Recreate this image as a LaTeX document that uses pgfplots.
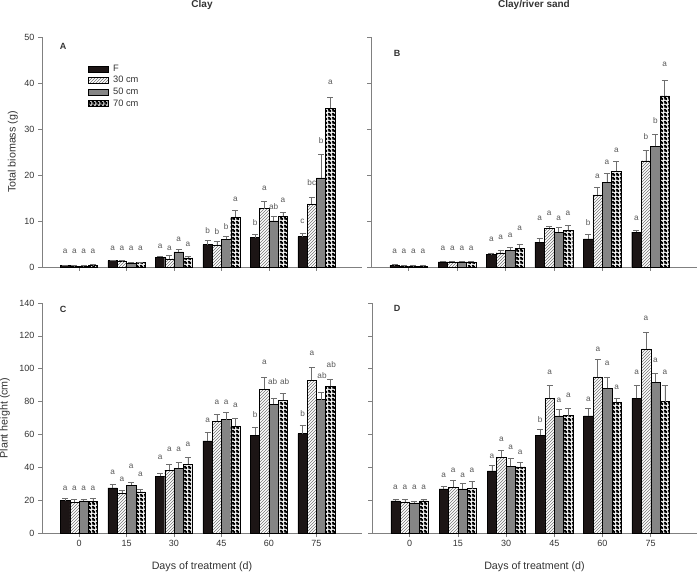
\documentclass[border=0pt]{standalone}
\usepackage{fontspec}
\setmainfont{Liberation Sans}
\usepackage{pgfplots}
\usepackage{pgfplotstable}
\pgfplotsset{compat=1.18}
\usetikzlibrary{patterns}

\definecolor{txt}{HTML}{333333}
\definecolor{axc}{HTML}{808080}
\definecolor{Fcol}{HTML}{1C1515}
\definecolor{Gcol}{HTML}{858585}
\definecolor{errc}{HTML}{6E6E6E}

\pgfdeclarepatternformonly{bdots}{\pgfpointorigin}{\pgfqpoint{4pt}{4pt}}{\pgfqpoint{4pt}{4pt}}{%
  \pgfpathrectangle{\pgfpointorigin}{\pgfqpoint{4pt}{4pt}}%
  \pgfpathcircle{\pgfqpoint{1pt}{1pt}}{0.95pt}%
  \pgfpathcircle{\pgfqpoint{3pt}{3pt}}{0.95pt}%
  \pgfseteorule
  \pgfusepath{fill}}

\pgfplotstableread{
x F Fe H He G Ge K Ke
0 0.3 0.1 0.2 0.1 0.2 0.1 0.3 0.3
1 1.4 0.1 1.3 0.1 0.9 0.1 1.0 0.1
2 2.1 0.3 1.8 0.7 3.3 0.5 2.0 0.4
3 4.85 0.95 4.8 0.85 6.0 0.7 10.9 1.4
4 6.4 0.6 12.7 1.5 10.0 1.0 11.0 0.9
5 6.6 0.8 13.7 1.4 19.4 5.1 34.5 2.3
}\dataA
\pgfplotstableread{
x F Fe H He G Ge K Ke
0 0.3 0.3 0.2 0.1 0.2 0.1 0.2 0.1
1 1.1 0.1 1.1 0.1 1.1 0.1 1.1 0.1
2 2.7 0.3 3.1 0.6 3.6 0.7 4.1 0.9
3 5.4 0.8 8.4 0.4 7.6 1.0 8.0 1.0
4 6.1 0.9 15.7 1.6 18.4 1.9 20.8 2.1
5 7.6 0.4 23.1 2.2 26.2 2.6 37.2 3.3
}\dataB
\pgfplotstableread{
x F Fe H He G Ge K Ke
0 19.7 1.4 18.7 1.8 19.5 1.2 19.3 2.0
1 27.4 2.3 24.3 1.9 29.2 1.7 25.0 1.8
2 34.6 1.9 38.3 3.7 39.3 3.5 41.9 4.1
3 56.0 5.3 67.9 4.4 69.0 4.2 65.0 5.0
4 59.6 4.8 87.5 7.5 78.5 3.5 80.8 4.2
5 60.5 4.8 93.0 7.8 81.2 4.3 89.4 4.4
}\dataC
\pgfplotstableread{
x F Fe H He G Ge K Ke
0 19.5 1.0 19.0 1.5 18.3 1.2 19.5 1.2
1 26.8 1.7 28.0 4.0 26.8 3.2 27.0 4.5
2 37.8 3.2 46.0 4.3 40.5 5.2 40.3 2.7
3 59.5 3.5 82.0 8.0 71.3 3.7 71.5 4.5
4 71.3 4.7 95.0 10.5 88.0 7.0 79.5 2.5
5 82.0 8.0 112.0 10.0 91.7 5.3 80.0 10.0
}\dataD

\tikzset{plabel/.style={font=\bfseries\fontsize{9}{10}\selectfont, text=txt}}

\pgfplotsset{
  panel/.style={
    scale only axis, height=230pt,
    xmin=-0.78, xmax=5.96, ymin=0,
    axis x line*=bottom, axis y line*=left,
    axis line style={axc, line width=0.6pt, -},
    tick style={axc, line width=0.6pt},
    major tick length=4pt, tick align=outside,
    xtick={0,1,2,3,4,5},
    ticklabel style={font=\fontsize{9}{10}\selectfont, text=txt},
    /pgf/number format/assume math mode=true,
    label style={font=\fontsize{10.7}{12}\selectfont, text=txt},
    xlabel style={at={(axis description cs:0.5,-0.148)}, anchor=center},
    title style={at={(axis description cs:0.5,1.115)}, anchor=center, font=\bfseries\fontsize{10}{12}\selectfont, text=txt},
    clip=false,
  },
  errb/.style={error bars/.cd, y dir=plus, y explicit,
    error bar style={errc, line width=0.6pt},
    error mark options={errc, rotate=90, mark size=3pt, line width=0.6pt}},
  bar/.style={ybar, bar width=0.195, bar shift=0pt, draw=black, line width=0.4pt, forget plot},
  bF/.style={bar, fill=Fcol},
  bH/.style={bar, fill=white, pattern=north east lines, pattern color=black!55},
  bG/.style={bar, fill=Gcol},
  bK/.style={bar, fill=white, pattern=bdots, pattern color=black},
  lett/.style={draw=none, mark=none, forget plot, nodes near coords, point meta=explicit symbolic,
    every node near coord/.append style={anchor=center, font=\fontsize{8.2}{9}\selectfont, text=black!65, inner sep=0pt}},
}

\begin{document}
\begin{tikzpicture}
\useasboundingbox (0,0) rectangle (700pt,572pt);

% ---------------- A ----------------
\begin{axis}[panel, at={(42pt,305pt)}, anchor=south west, width=320pt,
  ymax=50, ytick={0,10,20,30,40,50}, xticklabels={},
  title={Clay},
  ylabel={Total biomass (g)},
  ylabel style={at={(axis description cs:-0.091,0.5)}, anchor=center},
  legend style={at={(axis description cs:0.144,0.888)}, anchor=north west, draw=none, fill=none,
    font=\fontsize{9.3}{10}\selectfont, text=txt, row sep=-0.4pt, inner sep=0pt},
  legend cell align=left]
\addlegendimage{legend image code/.code={\draw[fill=Fcol,draw=black,line width=0.4pt] (0pt,-3pt) rectangle (20pt,3pt);}}
\addlegendentry{\hspace{2.5pt}F}
\addlegendimage{legend image code/.code={\draw[fill=white,pattern=north east lines,pattern color=black!55,draw=black,line width=0.4pt] (0pt,-3pt) rectangle (20pt,3pt);}}
\addlegendentry{\hspace{2.5pt}30 cm}
\addlegendimage{legend image code/.code={\draw[fill=Gcol,draw=black,line width=0.4pt] (0pt,-3pt) rectangle (20pt,3pt);}}
\addlegendentry{\hspace{2.5pt}50 cm}
\addlegendimage{legend image code/.code={\draw[pattern=bdots,pattern color=black,draw=black,line width=0.4pt] (0pt,-3pt) rectangle (20pt,3pt);}}
\addlegendentry{\hspace{2.5pt}70 cm}
\addplot[bF, errb] table[x expr=\thisrow{x}-0.2925, y=F, y error=Fe] {\dataA};
\addplot[bH, errb] table[x expr=\thisrow{x}-0.0975, y=H, y error=He] {\dataA};
\addplot[bG, errb] table[x expr=\thisrow{x}+0.0975, y=G, y error=Ge] {\dataA};
\addplot[bK, errb] table[x expr=\thisrow{x}+0.2925, y=K, y error=Ke] {\dataA};
\addplot[lett] coordinates {
 (-0.2925,3.4)[a] (-0.0975,3.4)[a] (0.0975,3.4)[a] (0.2925,3.4)[a]
 (0.7075,4.0)[a] (0.9025,4.0)[a] (1.0975,4.0)[a] (1.2925,4.0)[a]
 (1.7075,4.5)[a] (1.9025,4.0)[a] (2.0975,6.1)[a] (2.2925,4.9)[a]
 (2.7075,8.0)[b] (2.9025,7.75)[b] (3.0975,8.8)[b] (3.2925,14.8)[a]
 (3.7075,9.6)[b] (3.9025,17.0)[a] (4.0975,13.2)[ab] (4.2925,14.5)[a]
 (4.7075,9.9)[c] (4.9025,18.3)[bc] (5.0975,27.5)[b] (5.2925,40.1)[a]
};
\node[plabel] at (axis description cs:0.066,0.957) {A};
\end{axis}

% ---------------- B ----------------
\begin{axis}[panel, at={(371pt,305pt)}, anchor=south west, width=326pt,
  ymax=50, ytick={0,10,20,30,40,50}, xticklabels={}, yticklabels={},
  title={Clay/river sand}]
\addplot[bF, errb] table[x expr=\thisrow{x}-0.2925, y=F, y error=Fe] {\dataB};
\addplot[bH, errb] table[x expr=\thisrow{x}-0.0975, y=H, y error=He] {\dataB};
\addplot[bG, errb] table[x expr=\thisrow{x}+0.0975, y=G, y error=Ge] {\dataB};
\addplot[bK, errb] table[x expr=\thisrow{x}+0.2925, y=K, y error=Ke] {\dataB};
\addplot[lett] coordinates {
 (-0.2925,3.4)[a] (-0.0975,3.4)[a] (0.0975,3.4)[a] (0.2925,3.4)[a]
 (0.7075,4.0)[a] (0.9025,4.0)[a] (1.0975,4.0)[a] (1.2925,4.0)[a]
 (1.7075,6.0)[a] (1.9025,6.5)[a] (2.0975,6.8)[a] (2.2925,8.4)[a]
 (2.7075,10.6)[a] (2.9025,11.6)[a] (3.0975,10.6)[a] (3.2925,11.6)[a]
 (3.7075,9.6)[b] (3.9025,19.8)[a] (4.0975,22.8)[a] (4.2925,25.4)[a]
 (4.7075,10.5)[a] (4.9025,28.3)[b] (5.0975,31.8)[b] (5.2925,44.1)[a]
};
\node[plabel] at (axis description cs:0.08,0.93) {B};
\end{axis}

% ---------------- C ----------------
\begin{axis}[panel, at={(42pt,39pt)}, anchor=south west, width=320pt,
  ymax=140, ytick={0,20,40,60,80,100,120,140}, xticklabels={0,15,30,45,60,75},
  xlabel={Days of treatment (d)},
  ylabel={Plant height (cm)},
  ylabel style={at={(axis description cs:-0.116,0.5)}, anchor=center}]
\addplot[bF, errb] table[x expr=\thisrow{x}-0.2925, y=F, y error=Fe] {\dataC};
\addplot[bH, errb] table[x expr=\thisrow{x}-0.0975, y=H, y error=He] {\dataC};
\addplot[bG, errb] table[x expr=\thisrow{x}+0.0975, y=G, y error=Ge] {\dataC};
\addplot[bK, errb] table[x expr=\thisrow{x}+0.2925, y=K, y error=Ke] {\dataC};
\addplot[lett] coordinates {
 (-0.2925,27.0)[a] (-0.0975,27.0)[a] (0.0975,27.0)[a] (0.2925,27.0)[a]
 (0.7075,37.1)[a] (0.9025,32.5)[a] (1.0975,40.6)[a] (1.2925,35.5)[a]
 (1.7075,45.8)[a] (1.9025,50.7)[a] (2.0975,50.7)[a] (2.2925,54.0)[a]
 (2.7075,68.6)[a] (2.9025,79.5)[a] (3.0975,79.5)[a] (3.2925,77.9)[a]
 (3.7075,71.8)[b] (3.9025,103.9)[a] (4.0775,92.1)[ab] (4.3325,92.1)[ab]
 (4.7075,72.6)[b] (4.9025,109.1)[a] (5.1175,95.7)[ab] (5.3125,102.4)[ab]
};
\node[plabel] at (axis description cs:0.066,0.97) {C};
\end{axis}

% ---------------- D ----------------
\begin{axis}[panel, at={(372pt,39pt)}, anchor=south west, width=325pt,
  ymax=140, ytick={0,20,40,60,80,100,120,140}, xticklabels={0,15,30,45,60,75}, yticklabels={},
  xlabel={Days of treatment (d)}]
\addplot[bF, errb] table[x expr=\thisrow{x}-0.2925, y=F, y error=Fe] {\dataD};
\addplot[bH, errb] table[x expr=\thisrow{x}-0.0975, y=H, y error=He] {\dataD};
\addplot[bG, errb] table[x expr=\thisrow{x}+0.0975, y=G, y error=Ge] {\dataD};
\addplot[bK, errb] table[x expr=\thisrow{x}+0.2925, y=K, y error=Ke] {\dataD};
\addplot[lett] coordinates {
 (-0.2925,28.0)[a] (-0.0975,28.0)[a] (0.0975,28.0)[a] (0.2925,28.0)[a]
 (0.7075,34.8)[a] (0.9025,38.2)[a] (1.0975,34.8)[a] (1.2925,38.2)[a]
 (1.7075,46.7)[a] (1.9025,57.1)[a] (2.0975,52.0)[a] (2.2925,49.0)[a]
 (2.7075,69.3)[b] (2.9025,98.0)[a] (3.0975,80.9)[a] (3.2925,83.9)[a]
 (3.7075,81.3)[a] (3.9025,112.0)[a] (4.0975,103.0)[a] (4.2925,88.6)[a]
 (4.7075,97.6)[a] (4.9025,130.5)[a] (5.0975,104.9)[a] (5.2925,97.6)[a]
};
\node[plabel] at (axis description cs:0.077,0.978) {D};
\end{axis}
\end{tikzpicture}
\end{document}
